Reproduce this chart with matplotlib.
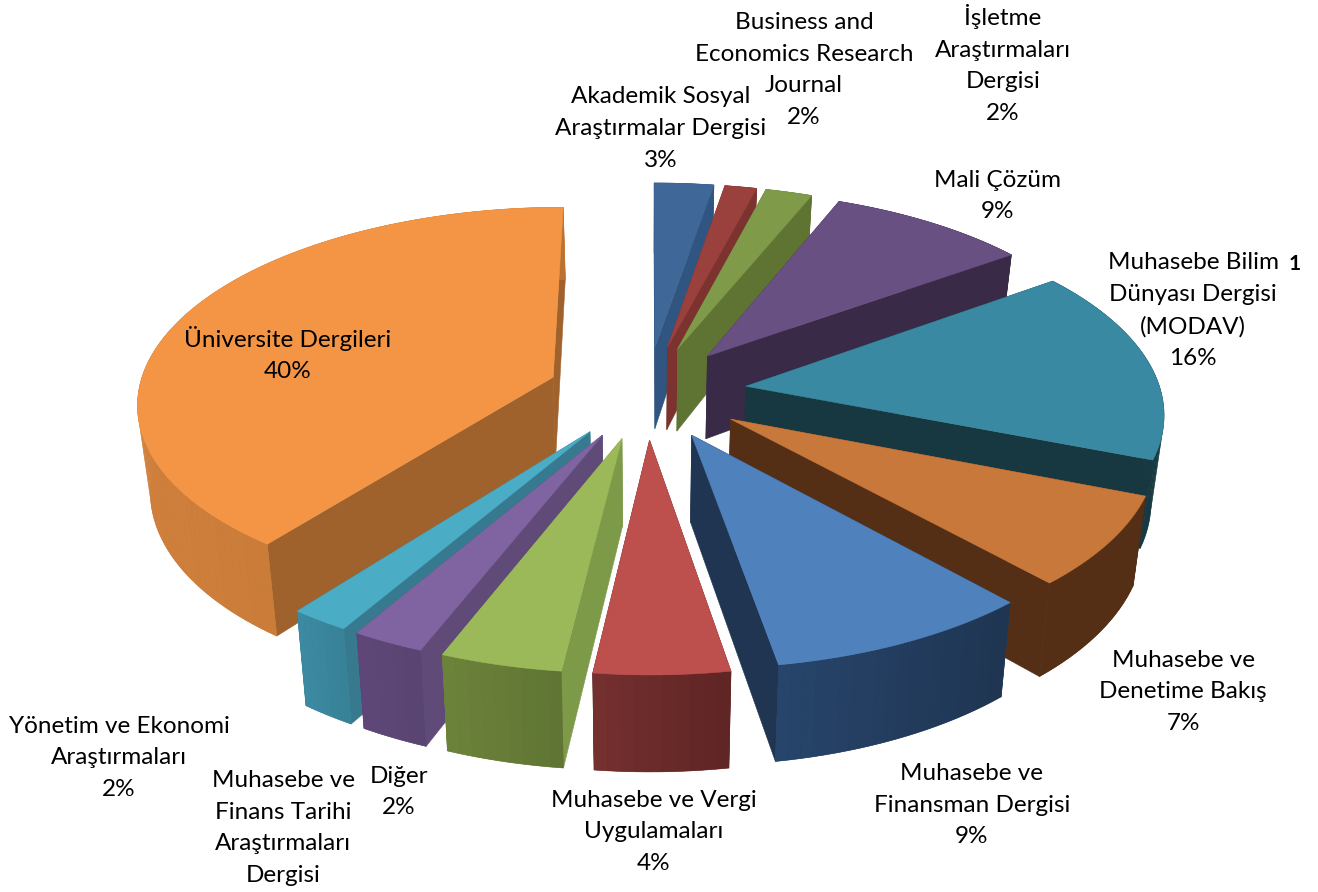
import numpy as np
import matplotlib
matplotlib.use("Agg")
import matplotlib.pyplot as plt

# ---- data ----
categories = ["Akademik Sosyal\nAraştırmalar Dergisi",
              "Business and\nEconomics Research\nJournal",
              "İşletme\nAraştırmaları\nDergisi",
              "Mali Çözüm",
              "Muhasebe Bilim\nDünyası Dergisi\n(MODAV)",
              "Muhasebe ve\nDenetime Bakış",
              "Muhasebe ve\nFinansman Dergisi",
              "Muhasebe ve Vergi\nUygulamaları",
              "Diğer",
              "Muhasebe ve\nFinans Tarihi\nAraştırmaları\nDergisi",
              "Yönetim ve Ekonomi\nAraştırmaları",
              "Üniversite Dergileri"]
percent_labels = ["3%", "2%", "2%", "9%", "16%", "7%", "9%", "4%", "2%", "", "2%", "40%"]
slice_shares = [2.64, 1.42, 2.08, 8.92, 15.92, 7.36, 9.0, 4.53, 4.08, 2.44, 2.0, 39.61]

# ---- styles ----
top_colors = ["#3F6797", "#9A403D", "#7F9A48", "#695083", "#3A89A3", "#C8783A",
              "#4F81BD", "#BD4F4C", "#9BB959", "#8064A2", "#4BACC6", "#F39545"]
wall_colors = ["#2F5580", "#7C3330", "#5F7433", "#392A47", "#173840", "#542F16",
               "#1F3552", "#5F2424", "#7D9A49", "#5F4A78", "#37798F", "#A0622D"]
rim_left = ["#2F5580", "#7C3330", "#5F7433", "#392A47", "#1B4450", "#542F16",
            "#27456B", "#753030", "#6C833B", "#5E4779", "#3C8AA3", "#D0803C"]
rim_right = ["#2F5580", "#7C3330", "#5F7433", "#392A47", "#173840", "#542F16",
             "#1F3552", "#5F2424", "#5F7433", "#594570", "#378196", "#BD7232"]
paint_order = [0, 1, 2, 3, 11, 4, 5, 6, 10, 9, 8, 7]
label_xy = [(661, 128.5), (804, 70), (1003, 64), (998, 196), (1193, 310.5), (1183, 692),
            (972, 805), (654, 832), (399, 792), (283, 828), (119, 758), (288, 354)]

CX, CY, R, E, TILT, PERSP = 647.0, 392.0, 415.0, 100.0, 0.467, 0.15
DEPTH_Y = [-515.0, 0.0, 515.0]
DEPTH_PX = [97.0, 85.0, 70.0]
INSET = 0.025


def project(X, Y):
    s = 1.0 / (1.0 + PERSP * Y / (R + E))
    return CX + X * s, CY - TILT * Y * s


def project_bottom(X, Y):
    x, y = project(X, Y)
    return x - INSET * (x - CX), y + np.interp(Y, DEPTH_Y, DEPTH_PX)


def hex_mix(a, b, t):
    ca, cb = np.array(matplotlib.colors.to_rgb(a)), np.array(matplotlib.colors.to_rgb(b))
    return tuple(ca + (cb - ca) * t)


fig = plt.figure(figsize=(13.18, 8.92), dpi=100)
ax = fig.add_axes([0, 0, 1, 1])
ax.set_xlim(0, 1318)
ax.set_ylim(892, 0)
ax.axis("off")

shares = np.array(slice_shares) / np.sum(slice_shares) * 360.0
ends = 90.0 - np.cumsum(shares)
starts = ends + shares


def paint(xs, ys, color, z, lw=0.4):
    ax.fill(xs, ys, facecolor=color, edgecolor=color if lw else "none", linewidth=lw, zorder=z)


for rank, i in enumerate(paint_order):
    a0, a1 = np.radians(starts[i]), np.radians(ends[i])
    mid = 0.5 * (a0 + a1)
    ox, oy = E * np.cos(mid), E * np.sin(mid)
    th = np.linspace(a0, a1, max(8, int(abs(a1 - a0) * 40)))
    X = ox + R * np.cos(th)
    Y = oy + R * np.sin(th)
    tx, ty = project(X, Y)
    bx, by = project_bottom(X, Y)
    tipx, tipy = project(np.array([ox]), np.array([oy]))
    tipbx, tipby = project_bottom(np.array([ox]), np.array([oy]))
    z = 2 + rank * 3
    # radial walls
    paint([tipx[0], tx[0], bx[0], tipbx[0]], [tipy[0], ty[0], by[0], tipby[0]], wall_colors[i], z)
    paint([tipx[0], tx[-1], bx[-1], tipbx[0]], [tipy[0], ty[-1], by[-1], tipby[0]], wall_colors[i], z)
    # outer rim wall: a base polygon, then shaded strips coloured left to right on screen
    paint(np.r_[tx, bx[::-1]], np.r_[ty, by[::-1]],
          hex_mix(rim_left[i], rim_right[i], 0.5), z + 1)
    lo, hi = tx.min(), tx.max()
    for j in range(len(th) - 1):
        t = (0.5 * (tx[j] + tx[j + 1]) - lo) / max(hi - lo, 1)
        paint([tx[j], tx[j + 1], bx[j + 1], bx[j]], [ty[j], ty[j + 1], by[j + 1], by[j]],
              hex_mix(rim_left[i], rim_right[i], t), z + 1, lw=0)
    # top face
    paint(np.r_[tipx, tx], np.r_[tipy, ty], top_colors[i], z + 2)

for name, pct, (x, y) in zip(categories, percent_labels, label_xy):
    txt = name + ("\n" + pct if pct else "")
    ax.text(x, y, txt, ha="center", va="center", multialignment="center",
            family=["Lato", "DejaVu Sans"], fontsize=17.5, color="#000000",
            linespacing=1.63, zorder=100)
ax.text(1295, 264, "1", ha="center", va="center", family=["Lato", "DejaVu Sans"],
        fontsize=15, fontweight="bold", color="#000000", zorder=100)

fig.savefig("out.png", dpi=100, facecolor="white")
